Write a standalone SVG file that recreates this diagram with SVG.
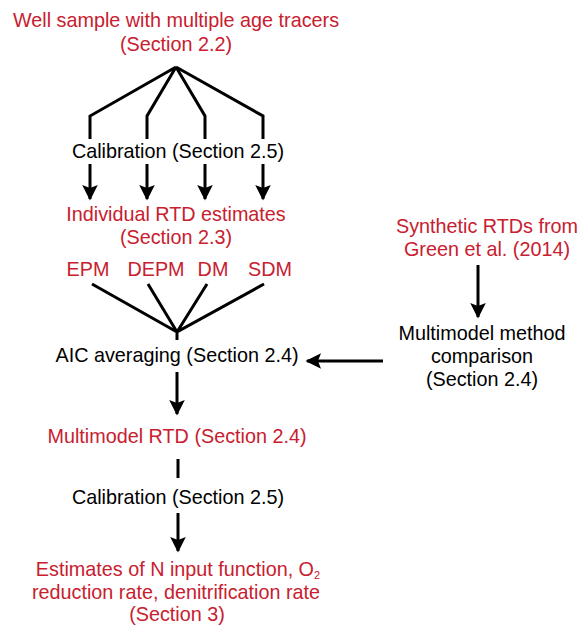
<svg xmlns="http://www.w3.org/2000/svg" width="580" height="626" viewBox="0 0 580 626">
<defs>
<style>
text{font-family:"Liberation Sans",Arial,sans-serif;font-size:19.8px;text-anchor:middle}
.r{fill:#c8202f}
.k{fill:#000}
.ln{stroke:#000;stroke-width:3;fill:none;stroke-linejoin:miter}
</style>
<marker id="ah" viewBox="0 0 10 10" refX="9" refY="5" markerWidth="6" markerHeight="5.2" markerUnits="strokeWidth" orient="auto">
<path d="M0,0 L10,5 L0,10 L2,5 Z" fill="#000"/>
</marker>
</defs>
<rect width="580" height="626" fill="#fff"/>
<g id="connectors">
<path class="ln" d="M176,67 L90,116 L90,139 M176,67 L147,116 L147,139 M176,67 L205,116 L205,139 M176,67 L263,116 L263,139"/>
<path class="ln" d="M90,164 L90,199" marker-end="url(#ah)"/>
<path class="ln" d="M147,164 L147,199" marker-end="url(#ah)"/>
<path class="ln" d="M205,164 L205,199" marker-end="url(#ah)"/>
<path class="ln" d="M263,164 L263,199" marker-end="url(#ah)"/>
<path class="ln" d="M92,284 L177,332 M148,284 L177,332 M207,284 L177,332 M264,284 L177,332 L177,340"/>
<path class="ln" d="M177,372 L177,414" marker-end="url(#ah)"/>
<path class="ln" d="M478,265 L478,317" marker-end="url(#ah)"/>
<path class="ln" d="M383,361 L307,361" marker-end="url(#ah)"/>
<path class="ln" d="M178,459 L178,478"/>
<path class="ln" d="M178,513 L178,551" marker-end="url(#ah)"/>
</g>
<g id="well"><text class="r" x="176" y="27">Well sample with multiple age tracers</text><text class="r" x="176" y="51">(Section 2.2)</text></g>
<g id="calib1"><text class="k" x="178" y="158">Calibration (Section 2.5)</text></g>
<g id="individual"><text class="r" x="176" y="221">Individual RTD estimates</text><text class="r" x="176" y="244">(Section 2.3)</text></g>
<g id="epm"><text class="r" x="88" y="276">EPM</text></g>
<g id="depm"><text class="r" x="156" y="276">DEPM</text></g>
<g id="dm"><text class="r" x="213" y="276">DM</text></g>
<g id="sdm"><text class="r" x="270" y="276">SDM</text></g>
<g id="aic"><text class="k" x="177" y="362">AIC averaging (Section 2.4)</text></g>
<g id="synthetic"><text class="r" x="487" y="233">Synthetic RTDs from</text><text class="r" x="487" y="256">Green et al. (2014)</text></g>
<g id="comparison"><text class="k" x="482" y="340">Multimodel method</text><text class="k" x="482" y="363">comparison</text><text class="k" x="482" y="386">(Section 2.4)</text></g>
<g id="multimodel"><text class="r" x="177" y="443">Multimodel RTD (Section 2.4)</text></g>
<g id="calib2"><text class="k" x="178" y="504">Calibration (Section 2.5)</text></g>
<g id="estimates"><text class="r" x="178" y="576">Estimates of N input function, O<tspan font-size="11" dy="3">2</tspan></text><text class="r" x="176" y="599">reduction rate, denitrification rate</text><text class="r" x="177" y="621">(Section 3)</text></g>
</svg>
